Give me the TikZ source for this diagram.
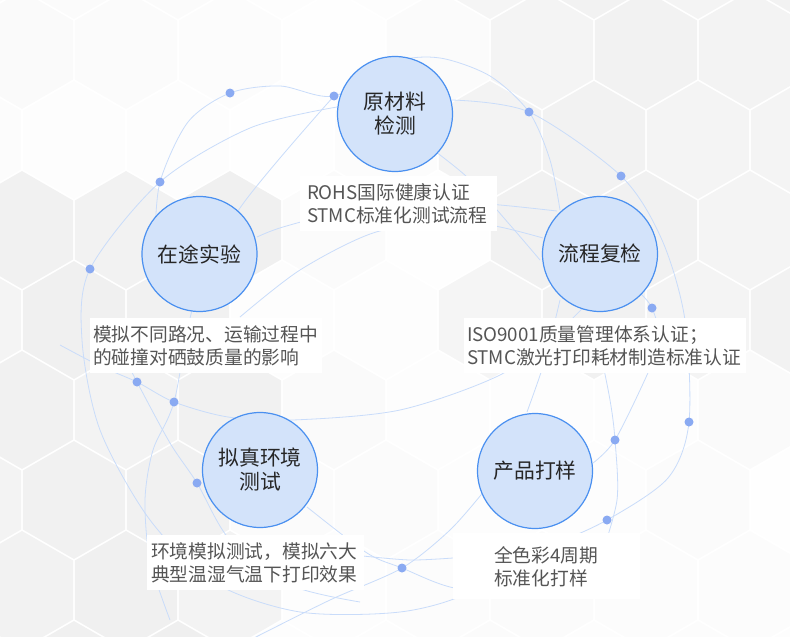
\documentclass[tikz,border=0pt]{standalone}
\usepackage{fontspec}
\setmainfont{Noto Sans CJK SC}
\usetikzlibrary{positioning}

\definecolor{ringblue}{HTML}{4A90F0}
\definecolor{ballfill}{HTML}{D3E3FA}
\definecolor{orbitc}{HTML}{C9DCFA}
\definecolor{dotc}{HTML}{8AAAF2}
\definecolor{blurbc}{HTML}{555555}

\tikzset{
    ball/.style={circle, draw=ringblue, line width=1.2pt, fill=ballfill, minimum size=115pt,
        inner sep=0pt, align=center, text=black!85, font=\fontsize{20.8}{24}\selectfont},
    blurb/.style={fill=white, align=left, inner sep=3pt, minimum height=55pt, text=blurbc,
        font=\fontsize{18.75}{23}\selectfont},
    orbit/.style={draw=orbitc, line width=0.8pt},
    dot/.style={fill=dotc},
}

\begin{document}
\begin{tikzpicture}[x=1pt, y=-1pt]
    \useasboundingbox (0,0) rectangle (790,637);
    % hexagon background
    \begin{scope}
    \clip (0,0) rectangle (790,637);
    \pgfmathsetseed{11}
    \foreach \i in {0,...,8}
    \foreach \j in {0,...,8}{
        \pgfmathsetmacro\hx{\i*104+mod(\j,2)*52-30}
        \pgfmathsetmacro\hy{\j*90-40}
        \pgfmathsetmacro\hs{0.4+3.5*(\hx>450)*(\hy<350)+4*(\hx<250)*(\hy>150)+1.8*rnd}
        \fill[black!\hs] (\hx,\hy) +(30:59) -- +(90:59) -- +(150:59) -- +(210:59) -- +(270:59) -- +(330:59) -- cycle;
    }
    \end{scope}
    % orbits
    \draw[orbit] plot[smooth] coordinates {(337,107) (250,128) (160,182) (90,269) (82,340) (100,430) (150,520) (215,583) (300,612) (400,612) (470,592) (530,545)};
    \draw[orbit] plot[smooth] coordinates {(155,240) (160,182) (188,122) (230,93) (280,86) (334,96) (395,62) (440,58) (490,76) (529,112) (550,160) (560,210)};
    \draw[orbit] plot[smooth] coordinates {(452,100) (529,112) (621,176) (662,240) (685,320) (689,422) (668,478) (607,520) (550,545) (480,565)};
    \draw[orbit] plot[smooth] coordinates {(334,96) (240,208) (195,300) (174,402) (153,450) (145,500) (150,560) (170,620)};
    \draw[orbit] plot[smooth] coordinates {(60,345) (100,366) (137,382) (174,402) (228,417) (293,420) (400,410) (500,375) (560,330) (600,290)};
    \draw[orbit] plot[smooth] coordinates {(118,345) (137,382) (170,443) (197,483) (230,540) (290,585) (360,602)};
    \draw[orbit] plot[smooth] coordinates {(240,317) (300,270) (373,233) (450,220) (500,227) (543,238)};
    \draw[orbit] plot[smooth] coordinates {(257,237) (283,227) (350,210) (430,200) (500,205) (557,211)};
    \draw[orbit] plot[smooth] coordinates {(420,140) (467,177) (510,225) (540,260)};
    \draw[orbit] plot[smooth] coordinates {(560,300) (545,360) (527,412)};
    \draw[orbit] plot[smooth] coordinates {(640,293) (652,308) (660,340) (647,375) (615,440) (593,463)};
    \draw[orbit] plot[smooth] coordinates {(598,340) (610,400) (615,440) (617,500) (600,560)};
    \draw[orbit] plot[smooth] coordinates {(307,507) (367,553) (402,568) (450,587) (520,598)};
    \draw[orbit] plot[smooth] coordinates {(250,640) (330,600) (402,568) (450,530) (485,490)};
    \draw[orbit] plot[smooth] coordinates {(363,556) (410,560) (453,558)};
    \foreach \p in {(230,93),(334,96),(160,182),(90,269),(529,112),(621,176),(652,308),
        (137,382),(174,402),(197,483),(615,440),(689,422),(607,520),(402,568)}
        \fill[dot] \p circle (4.5);
    % stages
    \node[ball] (ori) at (395,114) {原材料\\检测};
    \node[ball] (way) at (199.5,254) {在途实验};
    \node[ball] (rev) at (600,254) {流程复检};
    \node[ball] (env) at (260,470) {拟真环境\\测试};
    \node[ball] (prod) at (535,471) {产品打样};
    % notes
    \node[blurb, below=4pt of ori, xshift=3pt, text width=182pt, minimum width=197pt] (orinote) {ROHS国际健康认证\\STMC标准化测试流程};
    \node[blurb, below=6pt of way, xshift=6.5pt, text width=226pt, minimum width=232pt] (waynote) {模拟不同路况、运输过程中\\的碰撞对硒鼓质量的影响};
    \node[blurb, below=6pt of rev, xshift=5pt, text width=276pt, minimum width=282pt] (revnote) {ISO9001质量管理体系认证；\\STMC激光打印耗材制造标准认证};
    \node[blurb, below=7pt of env, xshift=-5pt, text width=208pt, minimum width=217pt] (envnote) {环境模拟测试，模拟六大\\典型温湿气温下打印效果};
    \node[blurb, below=4pt of prod, xshift=11pt, text width=104pt, minimum width=187pt, minimum height=66pt] (prodnote) {全色彩4周期\\标准化打样};
\end{tikzpicture}
\end{document}
